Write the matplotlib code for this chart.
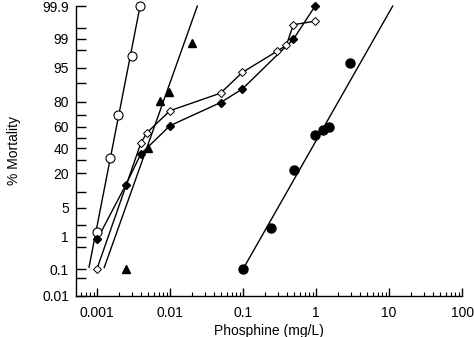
import numpy as np
import matplotlib
matplotlib.use("Agg")
import matplotlib.pyplot as plt
from matplotlib.ticker import FixedLocator, FixedFormatter, NullFormatter
from statistics import NormalDist

# phosphine concentration (mg/L) and % mortality for each population
circ_open_x = [0.00101, 0.00151, 0.00196, 0.00299, 0.0039]
circ_open_y = [1.3, 31.7, 70.2, 97.3, 99.9]
circ_open_fit_x = [0.00078, 0.0039]
circ_open_fit_y = [0.116, 99.9]

tri_x = [0.0025, 0.00505, 0.0074, 0.0097, 0.0198]
tri_y = [0.1, 40.0, 80.5, 86.0, 98.7]
tri_fit_x = [0.00126, 0.0237]
tri_fit_y = [0.113, 99.9]

dia_open_x = [0.001, 0.004, 0.0048, 0.01, 0.0494, 0.0977, 0.295, 0.392, 0.489, 0.98]
dia_open_y = [0.1, 44.8, 54.3, 73.6, 85.2, 93.7, 97.9, 98.5, 99.6, 99.69]

dia_fill_x = [0.00101, 0.0025, 0.004, 0.01, 0.0494, 0.0977, 0.49, 0.97]
dia_fill_y = [0.84, 13.5, 35.1, 61.0, 79.5, 87.3, 98.96, 99.9]

circ_fill_x = [0.1, 0.245, 0.495, 0.98, 1.24, 1.49, 2.92]
circ_fill_y = [0.1, 1.67, 22.4, 52.5, 57.4, 59.8, 96.1]
circ_fill_fit_x = [0.1, 11.2]
circ_fill_fit_y = [0.1, 99.9]

y_major = [0.01, 0.1, 1, 5, 20, 40, 60, 80, 95, 99, 99.9]
y_labels = ["0.01", "0.1", "1", "5", "20", "40", "60", "80", "95", "99", "99.9"]
y_minor = [0.05, 0.5, 2, 10, 30, 50, 70, 90, 98, 99.5]
x_major = [0.001, 0.01, 0.1, 1, 10, 100]
x_labels = ["0.001", "0.01", "0.1", "1", "10", "100"]

nd = NormalDist()
_ppf = np.vectorize(nd.inv_cdf, otypes=[float])
_cdf = np.vectorize(nd.cdf, otypes=[float])


def probit(p):
    p = np.clip(np.asarray(p, dtype=float) / 100.0, 1e-9, 1 - 1e-9)
    return _ppf(p)


def inv_probit(z):
    return _cdf(np.asarray(z, dtype=float)) * 100.0


plt.rcParams["font.family"] = ["Liberation Sans", "DejaVu Sans"]

fig = plt.figure(figsize=(4.74, 3.37), dpi=100)
ax = fig.add_axes([0.160, 0.122, 0.815, 0.860])
ax.set_xscale("log")
ax.set_yscale("function", functions=(probit, inv_probit))

# fitted probit lines and joined series
lw = 1.0
for lx, ly in [(circ_open_fit_x, circ_open_fit_y),
               (tri_fit_x, tri_fit_y),
               (circ_fill_fit_x, circ_fill_fit_y),
               (dia_open_x, dia_open_y),
               (dia_fill_x, dia_fill_y)]:
    ax.plot(lx, ly, color="black", lw=lw, zorder=2, clip_on=False)

ax.plot(circ_open_x, circ_open_y, "o", ms=6.5, mfc="white", mec="black",
        mew=0.8, zorder=3, clip_on=False)
ax.plot(tri_x, tri_y, "^", ms=5.5, color="black", zorder=3, clip_on=False)
ax.plot(dia_open_x, dia_open_y, "D", ms=4, mfc="white", mec="black",
        mew=0.7, zorder=3, clip_on=False)
ax.plot(dia_fill_x, dia_fill_y, "D", ms=4, color="black", zorder=3, clip_on=False)
ax.plot(circ_fill_x, circ_fill_y, "o", ms=6.5, color="black", zorder=3, clip_on=False)

ax.set_xlim(0.000515, 100)
ax.set_ylim(0.01, 99.9)

ax.yaxis.set_major_locator(FixedLocator(y_major))
ax.yaxis.set_major_formatter(FixedFormatter(y_labels))
ax.yaxis.set_minor_locator(FixedLocator(y_minor))
ax.yaxis.set_minor_formatter(NullFormatter())
ax.xaxis.set_major_locator(FixedLocator(x_major))
ax.xaxis.set_major_formatter(FixedFormatter(x_labels))

ax.tick_params(axis="y", which="both", direction="in", length=7, width=1.0,
               labelsize=10, pad=5)
ax.tick_params(axis="x", which="major", direction="in", length=6, width=1.0,
               labelsize=10, pad=7)
ax.tick_params(axis="x", which="minor", direction="in", length=3, width=0.8)

for s in ("top", "right"):
    ax.spines[s].set_visible(False)
for s in ("left", "bottom"):
    ax.spines[s].set_linewidth(1.0)

ax.set_xlabel("Phosphine (mg/L)", fontsize=10, labelpad=3)
ax.set_ylabel("% Mortality", fontsize=10, labelpad=15)

fig.savefig("out.png", dpi=100)
